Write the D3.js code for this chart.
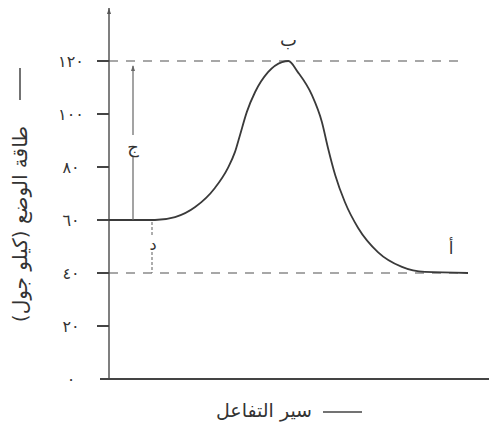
<!DOCTYPE html>
<html>
<head>
<meta charset="utf-8">
<script src="https://cdn.jsdelivr.net/npm/d3@7"></script>
<style>
  body { margin: 0; background: #fff; }
  text { font-family: "DejaVu Sans", sans-serif; fill: #333; }
</style>
</head>
<body>
<div id="chart"></div>
<script>

// reaction progress (0..100) and potential energy (kJ)
var progress = [0, 12.8, 18.4, 24, 29.5, 33.1, 35.1, 36.5, 38.4, 40.7, 44.3, 48.2, 50,
                52.6, 56.5, 59.3, 61, 63, 65.7, 69.4, 74.9, 81.6, 88, 100];
var energy   = [60, 60, 61.1, 64.9, 72.1, 79.6, 85.7, 92.1, 100.8, 108.3, 115.8, 119.6, 120,
                115.8, 107.2, 97, 87.2, 77, 66.8, 57, 47.9, 42.3, 40.4, 40];

var yTicks = [0, 20, 40, 60, 80, 100, 120];
var yTickLabels = ["٠", "٢٠", "٤٠", "٦٠", "٨٠", "١٠٠", "١٢٠"];

var yTitle = "طاقة الوضع (كيلو جول)";
var xTitle = "سير التفاعل";

// point labels
var labelA = "أ", labelB = "ب", labelC = "ج", labelD = "د";
var reactantE = 60, productE = 40, peakE = 120, peakX = 50;

var width = 489, height = 423;
var margin = { top: 8, right: 0, bottom: 44, left: 109 };

var svg = d3.select("#chart").append("svg")
	.attr("width", width)
	.attr("height", height);

var x = d3.scaleLinear().domain([0, 100]).range([margin.left, 468]);
var y = d3.scaleLinear().domain([0, 120]).range([379, 61]);

// dashed reference lines
[peakE, productE].forEach(function(v){
	svg.append("line")
		.attr("x1", margin.left).attr("x2", 464)
		.attr("y1", y(v)).attr("y2", y(v))
		.attr("stroke", "#8a8a8a")
		.attr("stroke-width", 1.5)
		.attr("stroke-dasharray", "9,8");
});

// axes
svg.append("line")
	.attr("x1", margin.left).attr("x2", margin.left)
	.attr("y1", margin.top).attr("y2", 379)
	.attr("stroke", "#555").attr("stroke-width", 1.5);
svg.append("path")
	.attr("d", "M" + (margin.left - 2) + "," + (margin.top + 6) + " L" + margin.left + "," + margin.top + " L" + (margin.left + 2) + "," + (margin.top + 6) + "Z")
	.attr("fill", "#555");
svg.append("line")
	.attr("x1", 100).attr("x2", 489)
	.attr("y1", 379).attr("y2", 379)
	.attr("stroke", "#444").attr("stroke-width", 2.2);

// y ticks
var ticks = svg.append("g");
yTicks.forEach(function(v, i){
	if (v > 0) {
		ticks.append("line")
			.attr("x1", 97).attr("x2", margin.left)
			.attr("y1", y(v)).attr("y2", y(v))
			.attr("stroke", "#444").attr("stroke-width", 2);
	}
	ticks.append("text")
		.attr("x", 71).attr("y", y(v))
		.attr("text-anchor", "middle")
		.attr("dominant-baseline", "central")
		.style("font-size", "16px")
		.style("letter-spacing", "3px")
		.text(yTickLabels[i]);
});

// curve
var pts = progress.map(function(p, i){ return [p, energy[i]]; });
var line = d3.line()
	.x(function(d){ return x(d[0]); })
	.y(function(d){ return y(d[1]); })
	.curve(d3.curveMonotoneX);
svg.append("path")
	.datum(pts)
	.attr("d", line)
	.attr("fill", "none")
	.attr("stroke", "#3a3a3a")
	.attr("stroke-width", 1.8);

// ج : activation energy arrow
var cx = 133;
svg.append("line")
	.attr("x1", cx).attr("x2", cx)
	.attr("y1", y(peakE) + 5).attr("y2", y(reactantE))
	.attr("stroke", "#666").attr("stroke-width", 1.2);
svg.append("path")
	.attr("d", "M" + (cx - 2) + "," + (y(peakE) + 10) + " L" + cx + "," + (y(peakE) + 4) + " L" + (cx + 2) + "," + (y(peakE) + 10) + "Z")
	.attr("fill", "#666");
svg.append("rect")
	.attr("x", cx - 8).attr("y", 135).attr("width", 16).attr("height", 22)
	.attr("fill", "#fff");
svg.append("text")
	.attr("x", cx).attr("y", 146)
	.attr("text-anchor", "middle").attr("dominant-baseline", "central")
	.style("font-size", "18px")
	.text(labelC);

// د : dashed reaction enthalpy
var dx = 152;
svg.append("line")
	.attr("x1", dx).attr("x2", dx)
	.attr("y1", y(reactantE) + 2).attr("y2", y(productE))
	.attr("stroke", "#777").attr("stroke-width", 1.2)
	.attr("stroke-dasharray", "3,2");
svg.append("rect")
	.attr("x", dx - 6).attr("y", 236).attr("width", 12).attr("height", 16)
	.attr("fill", "#fff");
svg.append("text")
	.attr("x", dx + 1).attr("y", 244)
	.attr("text-anchor", "middle").attr("dominant-baseline", "central")
	.style("font-size", "16px")
	.text(labelD);

// ب peak label, أ product label
svg.append("text")
	.attr("x", x(peakX)).attr("y", 46)
	.attr("text-anchor", "middle")
	.style("font-size", "18px")
	.text(labelB);
svg.append("text")
	.attr("x", 451).attr("y", 248)
	.attr("text-anchor", "middle").attr("dominant-baseline", "central")
	.style("font-size", "17px")
	.text(labelA);

// y axis title (rotated) + arrow line
svg.append("text")
	.attr("transform", "translate(20,224) rotate(-90)")
	.attr("text-anchor", "middle")
	.attr("dominant-baseline", "central")
	.style("font-size", "20px")
	.style("letter-spacing", "1px")
	.text(yTitle);
svg.append("line")
	.attr("x1", 20).attr("x2", 20)
	.attr("y1", 68).attr("y2", 100)
	.attr("stroke", "#444").attr("stroke-width", 1.5);

// x axis title + line
svg.append("text")
	.attr("x", 264).attr("y", 410)
	.attr("text-anchor", "middle")
	.attr("dominant-baseline", "central")
	.style("font-size", "19px")
	.text(xTitle);
svg.append("line")
	.attr("x1", 323).attr("x2", 362)
	.attr("y1", 412).attr("y2", 412)
	.attr("stroke", "#444").attr("stroke-width", 1.5);

</script>
</body>
</html>
